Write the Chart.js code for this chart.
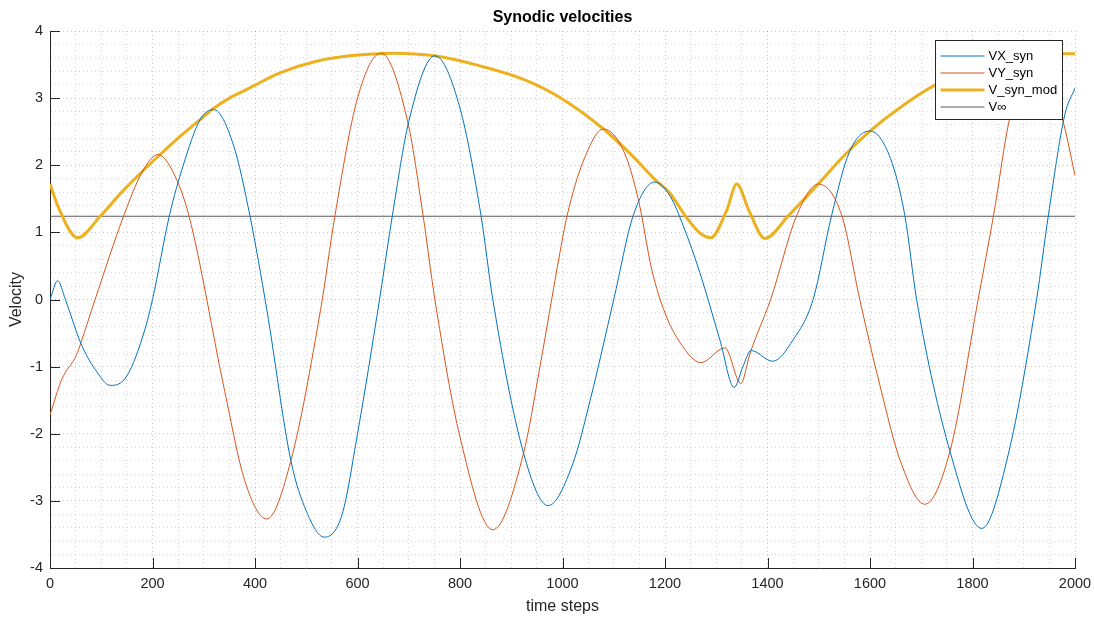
<!DOCTYPE html>
<html>
<head>
<meta charset="utf-8">
<script src="https://cdn.jsdelivr.net/npm/chart.js@4.4.1/dist/chart.umd.min.js"></script>
<style>
  html, body { margin: 0; padding: 0; background: #fff; }
  #wrap { width: 1094px; height: 619px; }
</style>
</head>
<body>
<div id="wrap"><canvas id="graphique" width="1094" height="619"></canvas></div>
<script>
// Valeurs (pas de temps / vitesse)
const vxTemps = [0, 15, 30, 60, 88, 118, 150, 185, 200, 233, 260, 293, 319, 358, 390, 423, 470, 500, 535, 570, 600, 643, 668, 700, 751, 800, 841, 864, 924, 972, 1020, 1054, 1100, 1138, 1180, 1210, 1236, 1268, 1307, 1335, 1352, 1368, 1410, 1450, 1489, 1525, 1560, 1600, 1640, 1668, 1691, 1756, 1818, 1870, 1925, 1948, 1980, 2000];
const vxValeurs = [0, 0.28, 0.0, -0.65, -1.04, -1.28, -1.14, -0.45, 0, 1.25, 2.0, 2.68, 2.83, 2.3, 1.25, -0.15, -2.4, -3.15, -3.54, -3.2, -2.0, 0, 1.25, 2.65, 3.63, 2.85, 1.25, 0, -2.29, -3.07, -2.45, -1.5, 0, 1.25, 1.75, 1.54, 1.09, 0.4, -0.6, -1.31, -1.0, -0.76, -0.92, -0.6, 0, 1.25, 2.2, 2.51, 2.1, 1.25, 0, -2.26, -3.41, -2.3, 0, 1.25, 2.75, 3.15];

const vyTemps = [0, 23, 52, 60, 88, 144, 180, 211, 240, 271, 341, 380, 423, 470, 528, 556, 600, 646, 699, 728, 751, 800, 864, 924, 956, 995, 1009, 1040, 1080, 1120, 1148, 1174, 1200, 1230, 1270, 1317, 1348, 1366, 1406, 1457, 1499, 1545, 1580, 1620, 1659, 1707, 1756, 1811, 1841, 1873, 1922, 1975, 2000];
const vyValeurs = [-1.72, -1.19, -0.82, -0.65, 0, 1.25, 1.9, 2.16, 1.9, 1.25, -1.37, -2.7, -3.27, -2.4, -0.15, 1.25, 3.0, 3.67, 2.61, 1.25, 0, -2.05, -3.43, -2.29, -1.0, 0.7, 1.25, 2.05, 2.54, 2.2, 1.49, 0.45, -0.2, -0.65, -0.94, -0.72, -1.25, -0.8, 0, 1.25, 1.72, 1.25, 0, -1.3, -2.4, -3.05, -2.26, 0, 1.25, 2.71, 3.6, 2.7, 1.85];

const vmodTemps = [0, 16, 54, 98, 140, 179, 215, 260, 293, 318, 350, 384, 450, 520, 585, 670, 750, 839, 924, 995, 1080, 1135, 1180, 1210, 1242, 1268, 1289, 1320, 1340, 1364, 1395, 1441, 1499, 1550, 1600, 1659, 1729, 1800, 1870, 1950, 2000];
const vmodValeurs = [1.72, 1.38, 0.92, 1.24, 1.6, 1.9, 2.16, 2.47, 2.68, 2.84, 3.0, 3.13, 3.38, 3.55, 3.63, 3.67, 3.63, 3.48, 3.28, 3.01, 2.54, 2.15, 1.79, 1.58, 1.22, 0.99, 0.92, 1.32, 1.72, 1.32, 0.91, 1.25, 1.72, 2.15, 2.51, 2.86, 3.2, 3.38, 3.57, 3.66, 3.66];

const vInfini = 1.24;

const ticksX = [0, 200, 400, 600, 800, 1000, 1200, 1400, 1600, 1800, 2000];
const ticksY = [-4, -3, -2, -1, 0, 1, 2, 3, 4];

const police = "'Liberation Sans', Arial, Helvetica, sans-serif";

function enPoints(temps, valeurs) {
    return temps.map((t, i) => ({ x: t, y: valeurs[i] }));
}

// Titre centré sur la zone de tracé (et non sur tout le canvas)
const titre = {
    id: "titre",
    afterDraw(chart) {
        const { ctx, chartArea } = chart;
        ctx.save();
        ctx.font = "bold 16px " + police;
        ctx.fillStyle = "#000";
        ctx.textAlign = "center";
        ctx.textBaseline = "middle";
        ctx.fillText("Synodic velocities", (chartArea.left + chartArea.right) / 2, 18);
        ctx.restore();
    }
};

// Petits traits de graduation vers l'intérieur, comme sous MATLAB
const graduations = {
    id: "graduations",
    afterDatasetsDraw(chart) {
        const { ctx, chartArea, scales } = chart;
        ctx.save();
        ctx.strokeStyle = "#262626";
        ctx.lineWidth = 1;
        ctx.beginPath();
        for (const t of ticksX) {
            const px = Math.round(scales.x.getPixelForValue(t)) + 0.5;
            ctx.moveTo(px, chartArea.bottom);
            ctx.lineTo(px, chartArea.bottom - 10);
        }
        for (const v of ticksY) {
            const py = Math.round(scales.y.getPixelForValue(v)) + 0.5;
            ctx.moveTo(chartArea.left, py);
            ctx.lineTo(chartArea.left + 10, py);
        }
        ctx.stroke();
        ctx.restore();
    }
};

// Légende encadrée dans le coin haut droit
const legendeBoite = {
    id: "legendeBoite",
    afterDraw(chart) {
        const { ctx, chartArea } = chart;
        const datasets = chart.data.datasets;
        ctx.save();
        ctx.font = "13px " + police;
        let largeurTexte = 0;
        for (const d of datasets) {
            largeurTexte = Math.max(largeurTexte, ctx.measureText(d.label).width);
        }
        const w = Math.round(5 + 44 + 4 + largeurTexte + 5);
        const h = 79;
        const x0 = Math.round(chartArea.right - 13 - w) + 0.5;
        const y0 = Math.round(chartArea.top + 9) + 0.5;
        ctx.fillStyle = "#fff";
        ctx.fillRect(x0, y0, w, h);
        ctx.strokeStyle = "#262626";
        ctx.lineWidth = 1;
        ctx.strokeRect(x0, y0, w, h);
        datasets.forEach((d, i) => {
            const yy = y0 + 15.5 + i * 17;
            ctx.strokeStyle = d.borderColor;
            ctx.lineWidth = d.borderWidth;
            ctx.beginPath();
            ctx.moveTo(x0 + 5, yy);
            ctx.lineTo(x0 + 49, yy);
            ctx.stroke();
            ctx.fillStyle = "#000";
            ctx.textBaseline = "middle";
            ctx.textAlign = "left";
            ctx.fillText(d.label, x0 + 53, yy);
        });
        ctx.restore();
    }
};

const data = {
    datasets: [
        {
            label: "VX_syn",
            data: enPoints(vxTemps, vxValeurs),
            borderColor: "#0072BD",
            borderWidth: 1,
        },
        {
            label: "VY_syn",
            data: enPoints(vyTemps, vyValeurs),
            borderColor: "#D95319",
            borderWidth: 1,
        },
        {
            label: "V_syn_mod",
            data: enPoints(vmodTemps, vmodValeurs),
            borderColor: "#EDB120",
            borderWidth: 3,
        },
        {
            label: "V\u221E",
            data: [{ x: 0, y: vInfini }, { x: 2000, y: vInfini }],
            borderColor: "#5a5a5a",
            borderWidth: 1,
        },
    ],
};

const couleurGrille = (majeur) => majeur ? "rgba(0,0,0,0.22)" : "rgba(0,0,0,0.16)";

const config = {
    type: "line",
    data: data,
    options: {
        responsive: false,
        animation: false,
        layout: { padding: { left: 0, right: 19, top: 31, bottom: 0 } },
        elements: {
            point: { radius: 0 },
            line: { cubicInterpolationMode: "monotone", fill: false },
        },
        plugins: {
            legend: { display: false },
            tooltip: { enabled: false },
            title: { display: false },
        },
        scales: {
            x: {
                type: "linear",
                min: 0,
                max: 2000,
                afterFit: (scale) => {
                    scale.height = 51;
                    scale.paddingLeft = 0;
                    scale.paddingRight = 0;
                },
                ticks: {
                    stepSize: 50,
                    autoSkip: false,
                    maxRotation: 0,
                    padding: 7,
                    color: "#262626",
                    font: { family: police, size: 14.5 },
                    callback: (v) => (v % 200 === 0 ? String(v) : ""),
                },
                grid: {
                    drawTicks: false,
                    color: (c) => couleurGrille(c.tick && c.tick.value % 200 === 0),
                },
                border: { display: true, color: "#262626", width: 1, dash: [1, 3] },
                title: {
                    display: true,
                    text: "time steps",
                    color: "#262626",
                    font: { family: police, size: 16 },
                    padding: { top: 0, bottom: 3 },
                },
            },
            y: {
                min: -4,
                max: 4,
                afterFit: (scale) => {
                    scale.width = 50;
                    scale.paddingTop = 0;
                    scale.paddingBottom = 0;
                },
                ticks: {
                    stepSize: 0.2,
                    autoSkip: false,
                    padding: 7,
                    color: "#262626",
                    font: { family: police, size: 14.5 },
                    callback: (v) => (Math.abs(v - Math.round(v)) < 1e-6 ? String(Math.round(v)) : ""),
                },
                grid: {
                    drawTicks: false,
                    color: (c) => couleurGrille(c.tick && Math.abs(c.tick.value - Math.round(c.tick.value)) < 1e-6),
                },
                border: { display: true, color: "#262626", width: 1, dash: [1, 3] },
                title: {
                    display: true,
                    text: "Velocity",
                    color: "#262626",
                    font: { family: police, size: 16 },
                    padding: { top: 7, bottom: 0 },
                },
            },
        },
    },
    plugins: [titre, graduations, legendeBoite],
};

const graphique = new Chart(document.querySelector("#graphique"), config);
</script>
</body>
</html>
